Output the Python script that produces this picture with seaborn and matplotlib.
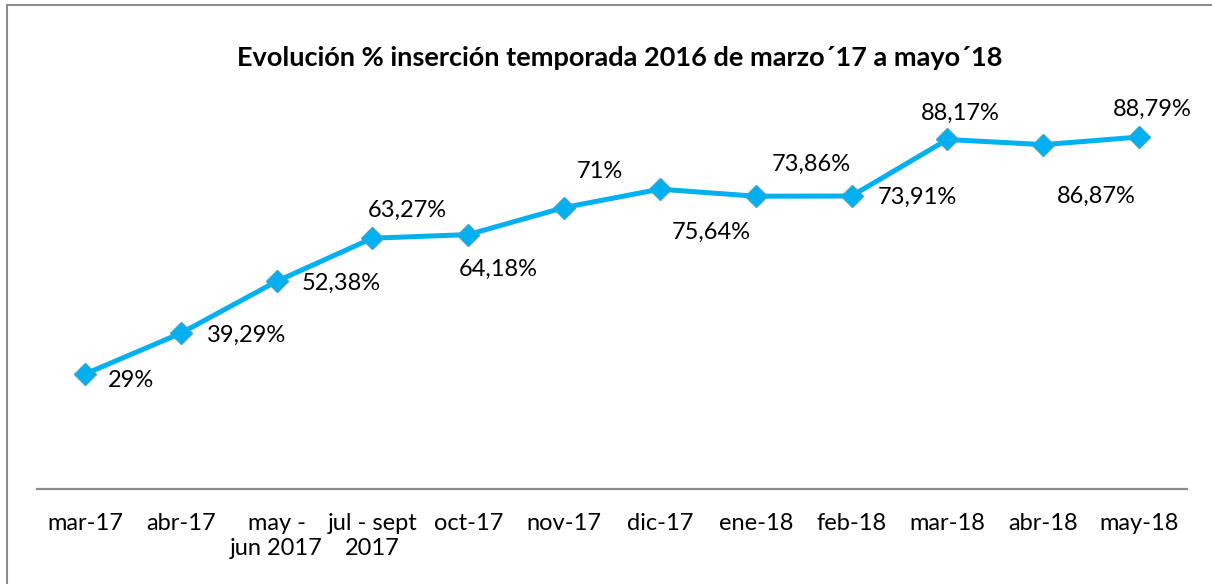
import matplotlib
matplotlib.use("Agg")
import matplotlib.pyplot as plt
import seaborn as sns
import pandas as pd
from matplotlib.patches import Rectangle

categories = ["mar-17", "abr-17", "may -\njun 2017", "jul - sept\n2017", "oct-17", "nov-17",
              "dic-17", "ene-18", "feb-18", "mar-18", "abr-18", "may-18"]
values = [29, 39.29, 52.38, 63.27, 64.18, 71, 75.64, 73.86, 73.91, 88.17, 86.87, 88.79]
labels = ["29%", "39,29%", "52,38%", "63,27%", "64,18%", "71%", "75,64%", "73,86%",
          "73,91%", "88,17%", "86,87%", "88,79%"]
title = "Evolución % inserción temporada 2016 de marzo´17 a mayo´18"

# label offsets in pixels (dx right, dy up)
offsets = [(46, -6), (66, -2), (65, -2), (35, 28), (30, -35), (36, 36),
           (51, -43), (56, 32), (66, -1), (13, 26), (53, -52), (13, 28)]

sns.set_theme(style="white")
plt.rcParams["font.family"] = ["Lato", "DejaVu Sans"]

fig = plt.figure(figsize=(12.12, 5.84), dpi=100)
fig.patch.set_facecolor("white")
fig.add_artist(Rectangle((7 / 1212, -0.1), 1.2, 1 - 5 / 584 + 0.1, transform=fig.transFigure,
                         fill=False, edgecolor="#8c8c8c", linewidth=1.5))

ax = fig.add_axes([37 / 1212, 1 - 489 / 584, 1150 / 1212, 396.4 / 584])
df = pd.DataFrame({"cat": categories, "val": values})
sns.lineplot(data=df, x="cat", y="val", sort=False, ax=ax, color="#00B0F0", linewidth=3.6,
             marker="D", markersize=11, markerfacecolor="#00B0F0", markeredgecolor="#3AA6C9",
             markeredgewidth=1.0)

for i, (v, lab, (dx, dy)) in enumerate(zip(values, labels, offsets)):
    ax.annotate(lab, (i, v), xytext=(dx, dy), textcoords="offset pixels",
                ha="center", va="center", fontsize=17, color="black")

ax.set_xlim(-0.5, len(categories) - 0.5)
ax.set_ylim(0, 100)
ax.set_xlabel("")
ax.set_ylabel("")
ax.set_yticks([])
ax.set_xticks(range(len(categories)))
ax.set_xticklabels(categories, fontsize=17, color="black", linespacing=1.25)
ax.tick_params(axis="x", length=0, pad=17)
for s in ["top", "right", "left"]:
    ax.spines[s].set_visible(False)
ax.spines["bottom"].set_color("#8c8c8c")
ax.spines["bottom"].set_linewidth(1.6)
ax.set_facecolor("none")

fig.text(620 / 1212, 1 - 58 / 584, title, ha="center", va="center", fontsize=19.5,
         fontweight="bold", color="black")

fig.savefig("out.png", dpi=100, facecolor="white")
